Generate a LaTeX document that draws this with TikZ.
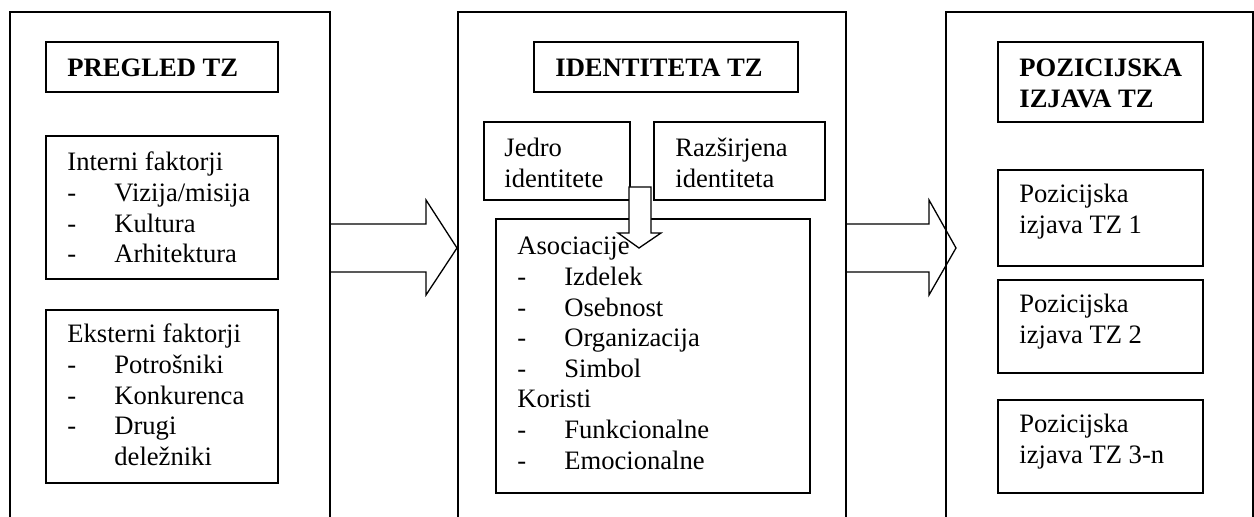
\documentclass[tikz,border=0pt]{standalone}
\usepackage{fontspec}
\setmainfont{Liberation Serif}
\usetikzlibrary{fit}
\newcommand{\dsh}{\makebox[23.5pt][l]{-}}
\newcommand{\ind}{\hspace*{23.5pt}}
\newcommand{\lines}[1]{\begin{tabular}[t]{@{}l@{}}#1\end{tabular}}
\begin{document}
\begin{tikzpicture}[x=0.5pt,y=-0.5pt,
  box/.style={draw,line width=0.65pt,inner sep=0pt,rectangle},
  txt/.style={inner sep=0pt,anchor=base west,font=\fontsize{13.3pt}{15.3pt}\selectfont},
  ttl/.style={txt,font=\fontsize{13.3pt}{15.3pt}\selectfont\bfseries},
  blockarrow/.style={draw,line width=0.65pt,line join=miter},
]
\useasboundingbox (0,0) rectangle (1254,517);
\clip (0,0) rectangle (1254,517);
% panels
\node[box,fit={(10,12) (330,560)}] (p1) {};
\node[box,fit={(458,12) (846,560)}] (p2) {};
\node[box,fit={(946,12) (1253,560)}] (p3) {};
% left panel
\node[box,fit={(46,42) (278,92)}] (b11) {};
\node[box,fit={(46,136) (278,279)}] (b12) {};
\node[box,fit={(46,310) (278,483)}] (b13) {};
\node[ttl] (t11) at (67,77) {PREGLED TZ};
\node[txt] (t12) at (67,171) {\lines{Interni faktorji\\ \dsh Vizija/misija\\ \dsh Kultura\\ \dsh Arhitektura}};
\node[txt] (t13) at (67,343) {\lines{Eksterni faktorji\\ \dsh Potrošniki\\ \dsh Konkurenca\\ \dsh Drugi\\ \ind deležniki}};
% middle panel
\node[box,fit={(534,42) (798,92)}] (b21) {};
\node[box,fit={(484,122) (630,200)}] (b22) {};
\node[box,fit={(654,122) (825,200)}] (b23) {};
\node[box,fit={(496,219) (810,493)}] (b24) {};
\node[ttl] (t21) at (555,77) {IDENTITETA TZ};
\node[txt] (t22) at (504,157) {\lines{Jedro\\ identitete}};
\node[txt] (t23) at (675,157) {\lines{Razširjena\\ identiteta}};
\node[txt] (t24) at (517,255) {\lines{Asociacije\\ \dsh Izdelek\\ \dsh Osebnost\\ \dsh Organizacija\\ \dsh Simbol\\ Koristi\\ \dsh Funkcionalne\\ \dsh Emocionalne}};
% right panel
\node[box,fit={(998,42) (1203,122)}] (b31) {};
\node[box,fit={(998,170) (1203,266)}] (b32) {};
\node[box,fit={(998,280) (1203,373)}] (b33) {};
\node[box,fit={(998,400) (1203,493)}] (b34) {};
\node[ttl] (t31) at (1019,77) {\lines{POZICIJSKA\\ IZJAVA TZ}};
\node[txt] (t32) at (1019,203) {\lines{Pozicijska\\ izjava TZ 1}};
\node[txt] (t33) at (1019,313) {\lines{Pozicijska\\ izjava TZ 2}};
\node[txt] (t34) at (1019,433) {\lines{Pozicijska\\ izjava TZ 3-n}};
% block arrows
\draw[blockarrow] (p1.east |- 0,224) -- (426,224) -- (426,200) -- (457,248) -- (426,295) -- (426,272) -- (p1.east |- 0,272);
\draw[blockarrow] (p2.east |- 0,224) -- (929,224) -- (929,200) -- (956,248) -- (929,295) -- (929,272) -- (p2.east |- 0,272);
\draw[blockarrow,fill=white] (629,187) -- (651,187) -- (651,233) -- (661,233) -- (639,248) -- (618,233) -- (629,233) -- cycle;
\end{tikzpicture}
\end{document}
